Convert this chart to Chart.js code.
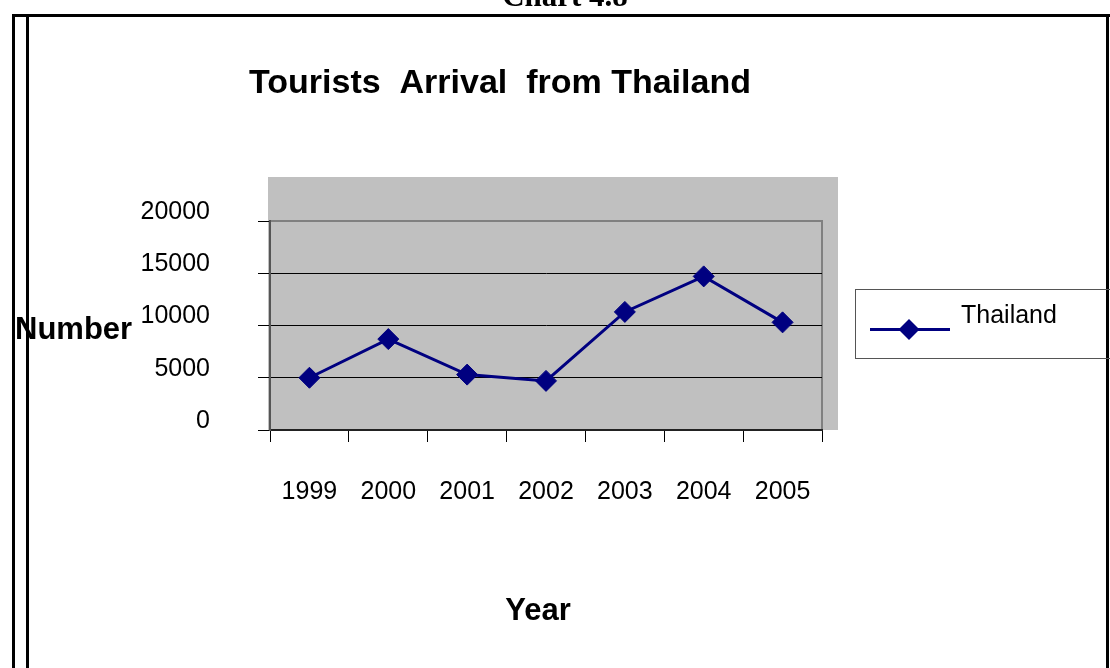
<!DOCTYPE html>
<html>
<head>
<meta charset="utf-8">
<title>Tourists Arrival from Thailand</title>
<script src="https://cdn.jsdelivr.net/npm/chart.js@4/dist/chart.umd.min.js"></script>
<style>
  html, body { margin: 0; padding: 0; background: #fff; }
  canvas { display: block; }
</style>
</head>
<body>
<canvas id="touristChart" width="1110" height="668" style="width:1110px;height:668px"></canvas>
<script>
// arrivals per year
const years = ['1999', '2000', '2001', '2002', '2003', '2004', '2005'];
const thailandArrivals = [5000, 8700, 5300, 4700, 11300, 14700, 10300];
const yTicks = [0, 5000, 10000, 15000, 20000];

const navy = '#000080';
const plotGray = '#c0c0c0';
const frameGray = '#808080';

function diamond(ctx, x, y, r) {
    ctx.beginPath();
    ctx.moveTo(x, y - r);
    ctx.lineTo(x + r, y);
    ctx.lineTo(x, y + r);
    ctx.lineTo(x - r, y);
    ctx.closePath();
    ctx.fill();
}

// grey plot background and frame behind the axes
const plotBackground = {
    id: 'plotBackground',
    beforeDraw(chart) {
        const { ctx, chartArea: a } = chart;
        ctx.save();
        ctx.fillStyle = '#fff';
        ctx.fillRect(0, 0, chart.width, chart.height);
        ctx.fillStyle = plotGray;
        ctx.fillRect(a.left - 2, a.top - 44, a.right - a.left + 18, a.bottom - a.top + 44);
        ctx.strokeStyle = frameGray;
        ctx.lineWidth = 2;
        ctx.strokeRect(a.left, a.top, a.right - a.left, a.bottom - a.top);
        ctx.restore();
    }
};

// page frame, titles and boxed legend
const decorations = {
    id: 'decorations',
    afterDraw(chart) {
        const { ctx } = chart;
        ctx.save();

        ctx.strokeStyle = '#000';
        ctx.lineWidth = 3;
        ctx.beginPath();
        ctx.moveTo(12, 15.5); ctx.lineTo(1110, 15.5);
        ctx.moveTo(13.5, 15); ctx.lineTo(13.5, 668);
        ctx.moveTo(27.5, 15); ctx.lineTo(27.5, 668);
        ctx.moveTo(1107.5, 15); ctx.lineTo(1107.5, 668);
        ctx.stroke();

        ctx.fillStyle = '#000';
        ctx.textAlign = 'center';
        ctx.textBaseline = 'alphabetic';
        ctx.font = 'bold 31px "Liberation Serif", "Times New Roman", serif';
        ctx.fillText('Chart 4.8', 565, 6);

        ctx.font = 'bold 34px "Liberation Sans", Arial, sans-serif';
        ctx.fillText('Tourists  Arrival  from Thailand', 500, 93);

        ctx.font = 'bold 31px "Liberation Sans", Arial, sans-serif';
        ctx.fillText('Year', 538, 620);
        ctx.textAlign = 'left';
        ctx.fillText('Number', 15, 339);

        // legend box
        const ds = chart.data.datasets[0];
        ctx.strokeStyle = '#555';
        ctx.lineWidth = 1;
        ctx.strokeRect(855.5, 289.5, 270, 69);
        ctx.strokeStyle = ds.borderColor;
        ctx.lineWidth = 3;
        ctx.beginPath();
        ctx.moveTo(870, 329.5); ctx.lineTo(950, 329.5);
        ctx.stroke();
        ctx.fillStyle = ds.borderColor;
        diamond(ctx, 909, 329.5, 10.5);
        ctx.fillStyle = '#000';
        ctx.font = '25px "Liberation Sans", Arial, sans-serif';
        ctx.fillText(ds.label, 961, 323);

        ctx.restore();
    }
};

const ctx = document.getElementById('touristChart').getContext('2d');

new Chart(ctx, {
    type: 'line',
    data: {
        labels: years,
        datasets: [{
            label: 'Thailand',
            data: thailandArrivals,
            borderColor: navy,
            backgroundColor: navy,
            borderWidth: 3,
            tension: 0,
            pointStyle: 'rectRot',
            pointRadius: 10.5,
            pointHoverRadius: 10.5,
            pointBackgroundColor: navy,
            pointBorderColor: navy,
            pointBorderWidth: 1
        }]
    },
    options: {
        responsive: false,
        animation: false,
        events: [],
        layout: { padding: { top: 221, right: 288, left: 0, bottom: 0 } },
        plugins: {
            legend: { display: false },
            title: { display: false },
            tooltip: { enabled: false }
        },
        scales: {
            x: {
                type: 'category',
                offset: true,
                afterFit(scale) { scale.height = 238; },
                grid: {
                    offset: true,
                    drawOnChartArea: false,
                    tickLength: 12,
                    color: '#000',
                    tickColor: '#000'
                },
                border: { display: true, color: '#222', width: 2 },
                ticks: {
                    color: '#000',
                    padding: 35,
                    maxRotation: 0,
                    font: { family: '"Liberation Sans", Arial, sans-serif', size: 25 }
                }
            },
            y: {
                min: 0,
                max: 20000,
                afterFit(scale) { scale.width = 270; },
                afterBuildTicks(scale) {
                    scale.ticks = yTicks.map(v => ({ value: v }));
                },
                grid: {
                    color: c => (c.tick && c.tick.value === 20000 ? frameGray : '#000'),
                    lineWidth: 1,
                    tickLength: 12,
                    tickColor: '#000'
                },
                border: { display: true, color: '#555', width: 2 },
                ticks: {
                    color: '#000',
                    padding: 48,
                    labelOffset: -9,
                    font: { family: '"Liberation Sans", Arial, sans-serif', size: 25 },
                    callback: v => String(v)
                }
            }
        }
    },
    plugins: [plotBackground, decorations]
});
</script>
</body>
</html>
